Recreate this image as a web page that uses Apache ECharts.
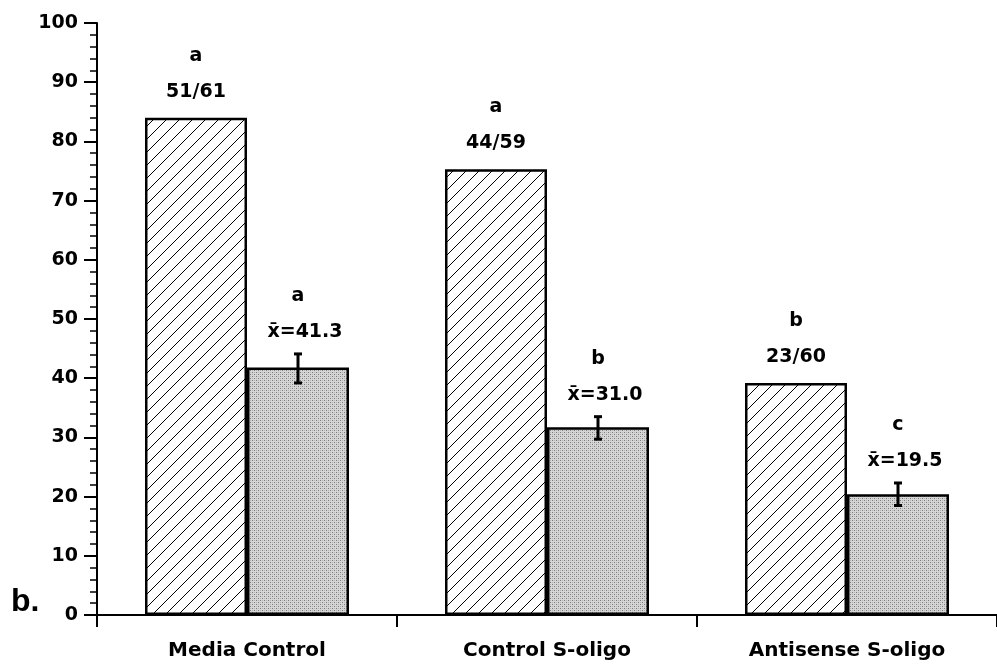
<!DOCTYPE html>
<html>
<head>
<meta charset="utf-8">
<script src="https://cdn.jsdelivr.net/npm/echarts@6/dist/echarts.min.js"></script>
<style>
html,body{margin:0;padding:0;background:#fff;}
#chart{width:997px;height:667px;}
</style>
</head>
<body>
<div id="chart"></div>
<script>
// ---- data ----
var categories = ['Media Control', 'Control S-oligo', 'Antisense S-oligo'];
var hatchedValues = [84.0, 75.3, 39.2];          // % responding (hatched bars)
var hatchedLetters = ['a', 'a', 'b'];
var hatchedRatios = ['51/61', '44/59', '23/60'];
var dottedValues = [41.8, 31.7, 20.4];           // mean (stippled bars)
var dottedLow = [39.2, 29.7, 18.5];              // error bar low
var dottedHigh = [44.1, 33.5, 22.3];             // error bar high
var dottedLetters = ['a', 'b', 'c'];
var meanLabels = ['41.3', '31.0', '19.5'];
var yTicks = [0, 10, 20, 30, 40, 50, 60, 70, 80, 90, 100];

var FONT = '"DejaVu Sans", sans-serif';

// ---- fill patterns ----
function hatchPattern() {
  var s = 13, c = document.createElement('canvas');
  c.width = s; c.height = s;
  var g = c.getContext('2d');
  g.fillStyle = '#fff'; g.fillRect(0, 0, s, s);
  g.strokeStyle = '#000'; g.lineWidth = 1;
  g.beginPath();
  g.moveTo(-1, s + 1); g.lineTo(s + 1, -1);
  g.moveTo(-2, 2); g.lineTo(2, -2);
  g.moveTo(s - 2, s + 2); g.lineTo(s + 2, s - 2);
  g.stroke();
  return c;
}
function stipplePattern() {
  var s = 4, c = document.createElement('canvas');
  c.width = s; c.height = s;
  var g = c.getContext('2d');
  g.fillStyle = '#d6d6d6'; g.fillRect(0, 0, s, s);
  g.fillStyle = '#7a7a7a';
  g.fillRect(0, 0, 1, 1); g.fillRect(2, 2, 1, 1);
  g.fillStyle = '#b4b4b4';
  g.fillRect(2, 0, 1, 1); g.fillRect(0, 2, 1, 1);
  return c;
}

var chart = echarts.init(document.getElementById('chart'), null, {renderer: 'canvas'});

var BAR_FRAC = 0.34;

var option = {
  animation: false,
  backgroundColor: '#fff',
  grid: {left: 97, width: 905, top: 23, bottom: 52, containLabel: false},
  graphic: [{
    type: 'text', left: 11, top: 586,
    style: {text: 'b.', fontFamily: '"Liberation Sans", Arial, sans-serif', fontWeight: 'bold', fontSize: 32, fill: '#000'}
  }],
  xAxis: {
    type: 'category',
    data: categories,
    boundaryGap: true,
    axisLine: {show: true, lineStyle: {color: '#000', width: 2}},
    axisTick: {show: true, length: 12, interval: 0, lineStyle: {color: '#000', width: 2}},
    axisLabel: {color: '#000', fontFamily: FONT, fontWeight: 'bold', fontSize: 20, margin: 26, interval: 0},
    splitLine: {show: false}
  },
  yAxis: {
    type: 'value',
    min: yTicks[0], max: yTicks[yTicks.length - 1], interval: 10,
    axisLine: {show: true, lineStyle: {color: '#000', width: 2}},
    axisTick: {show: true, length: 13, lineStyle: {color: '#000', width: 2}},
    minorTick: {show: true, splitNumber: 5, length: 7, lineStyle: {color: '#000', width: 1.5}},
    axisLabel: {color: '#000', fontFamily: FONT, fontWeight: 'bold', fontSize: 19, margin: 19},
    splitLine: {show: false}
  },
  series: [
    {
      type: 'bar',
      data: hatchedValues,
      barWidth: (BAR_FRAC * 100) + '%',
      barGap: '0%',
      itemStyle: {color: {image: hatchPattern(), repeat: 'repeat'}, borderColor: '#000', borderWidth: 2.5},
      label: {
        show: true, position: 'top', distance: 8,
        formatter: function (p) {
          return '{l|' + hatchedLetters[p.dataIndex] + '}\n{r|' + hatchedRatios[p.dataIndex] + '}';
        },
        rich: {
          l: {fontFamily: FONT, fontWeight: 'bold', fontSize: 19, lineHeight: 36, color: '#000', align: 'center'},
          r: {fontFamily: FONT, fontWeight: 'bold', fontSize: 19, lineHeight: 36, color: '#000', align: 'center'}
        }
      },
      z: 3
    },
    {
      type: 'bar',
      data: dottedValues,
      barWidth: (BAR_FRAC * 100) + '%',
      barGap: '0%',
      itemStyle: {color: {image: stipplePattern(), repeat: 'repeat'}, borderColor: '#000', borderWidth: 2.5},
      z: 3
    },
    {
      type: 'custom',
      data: categories.map(function (c, i) { return [i, dottedLow[i], dottedHigh[i]]; }),
      z: 5,
      renderItem: function (params, api) {
        var i = params.dataIndex;
        var idx = api.value(0);
        var lo = api.coord([idx, api.value(1)]);
        var hi = api.coord([idx, api.value(2)]);
        var bw = api.size([1, 0])[0];
        var x = lo[0] + bw * BAR_FRAC / 2;
        var cap = 4;
        var ls = {stroke: '#000', lineWidth: 3};
        return {
          type: 'group',
          children: [
            {type: 'line', shape: {x1: x, y1: hi[1], x2: x, y2: lo[1]}, style: ls},
            {type: 'line', shape: {x1: x - cap, y1: hi[1], x2: x + cap, y2: hi[1]}, style: ls},
            {type: 'line', shape: {x1: x - cap, y1: lo[1], x2: x + cap, y2: lo[1]}, style: ls},
            {type: 'text', style: {
              text: 'x\u0304=' + meanLabels[i], x: x + 7, y: hi[1] - 22,
              align: 'center', verticalAlign: 'middle',
              fontFamily: FONT, fontWeight: 'bold', fontSize: 19, fill: '#000'}},
            {type: 'text', style: {
              text: dottedLetters[i], x: x, y: hi[1] - 58,
              align: 'center', verticalAlign: 'middle',
              fontFamily: FONT, fontWeight: 'bold', fontSize: 19, fill: '#000'}}
          ]
        };
      }
    }
  ]
};
chart.setOption(option);
</script>
</body>
</html>
